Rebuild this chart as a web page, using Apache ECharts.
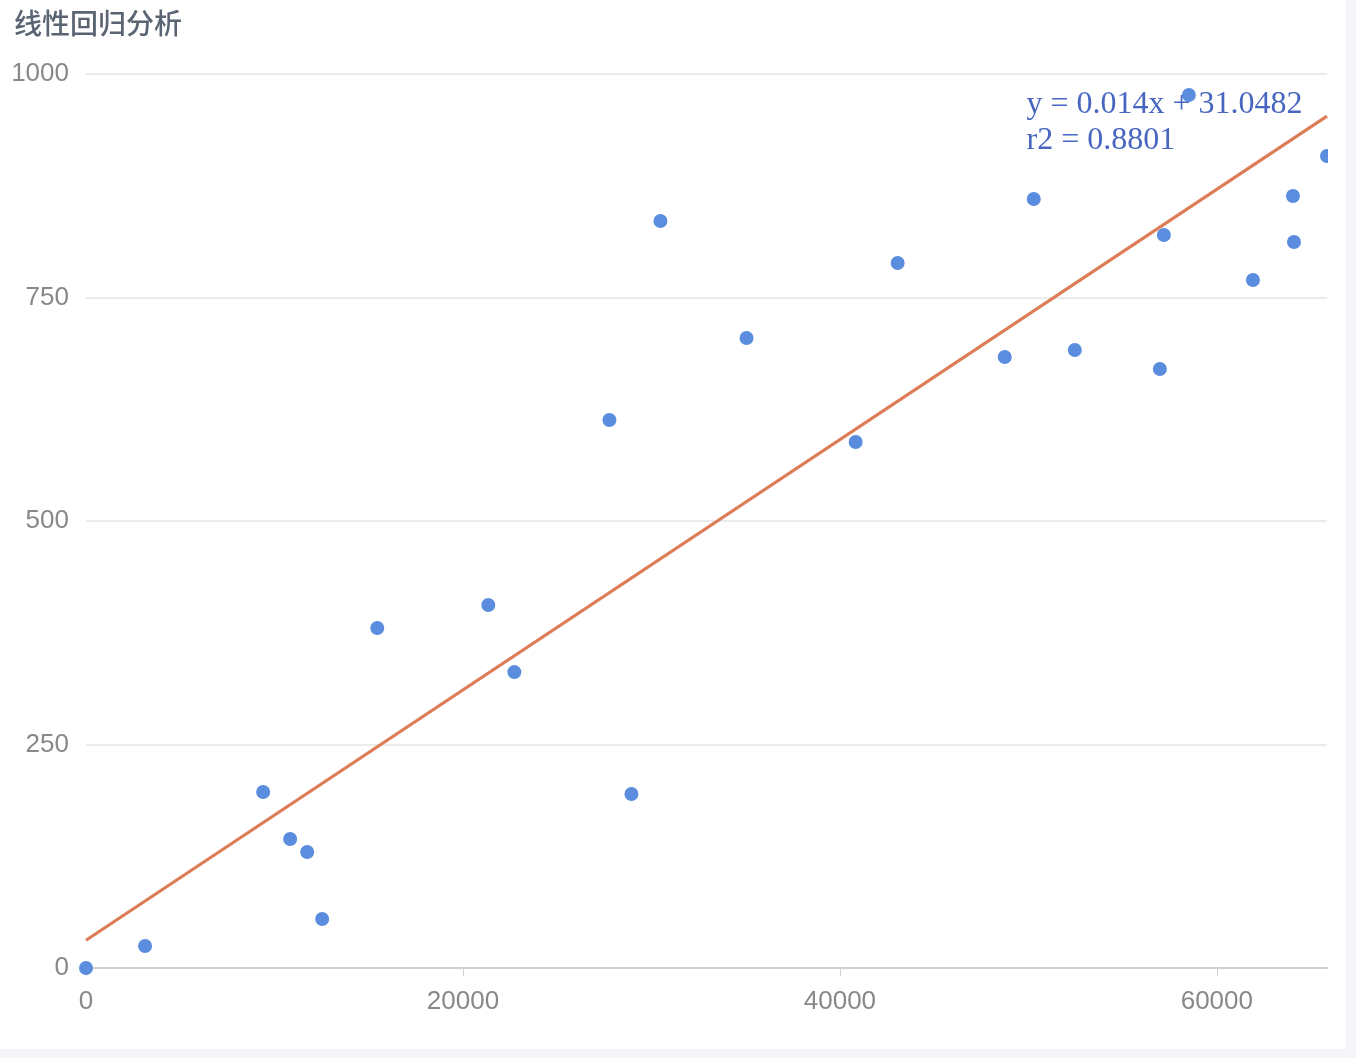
<!DOCTYPE html>
<html><head><meta charset="utf-8">
<script src="https://cdn.jsdelivr.net/npm/echarts@6/dist/echarts.min.js"></script>
<style>
html,body{margin:0;padding:0;background:#f4f5f9;}
#card{position:absolute;left:0;top:0;width:1346px;height:1049px;background:#fff;}
#chart{position:absolute;left:0;top:0;width:1328px;height:1049px;}
</style></head>
<body><div id="card"><div id="chart"></div></div>
<script>
const titleText = '线性回归分析';
const xValues = [0, 3133, 9399, 10832, 11735, 12532, 15452, 21346, 22727, 27771, 28940, 30479, 35046, 40834, 43064, 48746, 50286, 52463, 56976, 57189, 58516, 61915, 64039, 64092, 65844];
const yValues = [0, 24.6, 196.9, 144.3, 129.8, 54.8, 380.3, 406, 331, 613, 194.6, 835.6, 704.7, 588.4, 788.6, 683.4, 860.2, 691.3, 670, 819.9, 976.5, 769.6, 863.5, 812, 908.3];
const lineX = [0, 65844];
const lineY = [31.0482, 952.87];
const expression = 'y = 0.014x + 31.0482\nr2 = 0.8801';
const yTicks = [0, 250, 500, 750, 1000];

const points = xValues.map((x, i) => [x, yValues[i]]);
const linePts = lineX.map((x, i) => [x, lineY[i]]);

const chart = echarts.init(document.getElementById('chart'));
chart.setOption({
  animation: false,
  title: {
    text: titleText, left: 9, top: 4,
    textStyle: { fontSize: 28, fontWeight: 500, color: '#5a6472', fontFamily: 'Noto Sans CJK SC' }
  },
  grid: { left: 86, right: 1, top: 74, bottom: 81, containLabel: false, outerBoundsMode: 'none' },
  xAxis: {
    type: 'value', min: 0, max: 'dataMax', interval: 20000,
    axisLine: { lineStyle: { color: '#d0d0d0', width: 2 } },
    axisTick: { show: true, length: 8, lineStyle: { color: '#d0d0d0', width: 1 } },
    splitLine: { show: false },
    axisLabel: { fontSize: 26, color: '#888', margin: 21, fontFamily: 'Liberation Sans', showMaxLabel: false,
      formatter: v => String(v) }
  },
  yAxis: {
    type: 'value', min: yTicks[0], max: yTicks[yTicks.length - 1], interval: 250,
    axisLine: { show: false }, axisTick: { show: false },
    splitLine: { lineStyle: { color: '#e4e4e4', width: 1.5 } },
    axisLabel: { fontSize: 26, color: '#888', margin: 17, fontFamily: 'Liberation Sans',
      formatter: v => String(v) }
  },
  series: [
    {
      type: 'scatter', data: points, symbolSize: 14, clip: false,
      itemStyle: { color: '#5b8ddf', opacity: 1 }
    },
    {
      type: 'line', data: linePts, showSymbol: false, symbol: 'none',
      lineStyle: { color: '#dd7d58', width: 3.2 },
      markPoint: {
        symbol: 'circle', symbolSize: 1,
        itemStyle: { color: 'transparent' },
        label: {
          show: true, formatter: expression, position: [-300, -29],
          align: 'left', verticalAlign: 'top',
          fontFamily: 'Liberation Serif', fontSize: 32, lineHeight: 36, color: '#4866c0'
        },
        data: [{ coord: linePts[linePts.length - 1] }]
      },
      z: 1
    }
  ]
});
</script></body></html>
